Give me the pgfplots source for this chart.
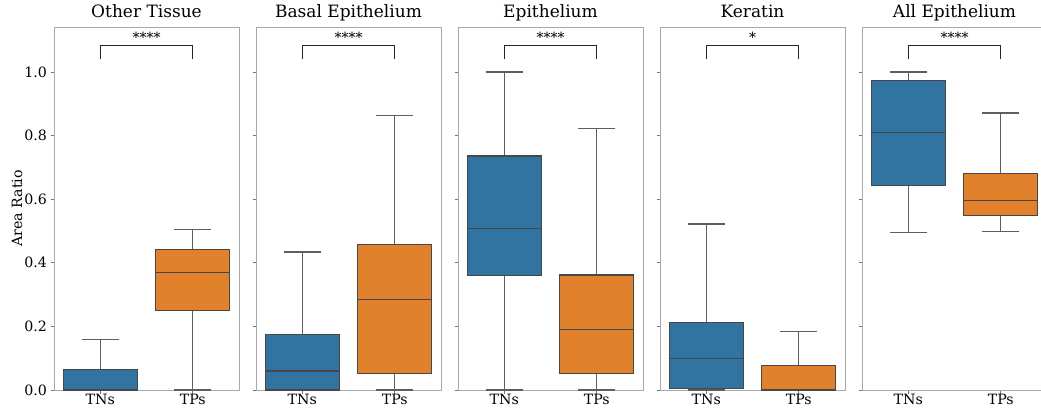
\documentclass[border=0pt]{standalone}
\usepackage{fontspec}
\setmainfont{DejaVu Serif}
\usepackage{pgfplots}
\pgfplotsset{compat=1.18}
\usepgfplotslibrary{statistics}
\definecolor{sbblue}{HTML}{3274A1}
\definecolor{sborange}{HTML}{E1812C}
\definecolor{framegray}{HTML}{A8A8A8}
\definecolor{linegray}{HTML}{474747}
\definecolor{whiskgray}{HTML}{5E5E5E}
\pgfplotsset{
  panel/.style={
    scale only axis, width=185pt, height=363pt, anchor=south west,
    xmin=-0.5, xmax=1.5, ymin=0, ymax=1.1415,
    xtick={0,1}, xticklabels={TNs,TPs},
    ytick={0,0.2,0.4,0.6,0.8,1.0},
    axis line style={draw=framegray, line width=0.9pt},
    tick style={draw=framegray!70!black, line width=0.8pt},
    tick align=outside, major tick length=3.5pt, tick pos=left,
    tick label style={font=\fontsize{14.2}{16}\selectfont},
    xticklabel style={yshift=2.5pt},
    /pgf/number format/assume math mode=true,
    yticklabel style={/pgf/number format/.cd, fixed, fixed zerofill, precision=1},
    title style={at={(0.5,1)}, anchor=base, yshift=3pt, inner sep=0pt, font=\fontsize{17}{19}\selectfont},
    clip=false,
    boxplot/draw direction=y,
    boxplot/every whisker/.style={draw=whiskgray, line width=1.2pt},
  },
  bx/.style={draw=linegray, line width=1.3pt, solid},
}
\newcommand{\bracket}[1]{%
  \addplot[black!85, line width=1.1pt] coordinates {(0,1.040) (0,1.082) (1,1.082) (1,1.040)};
  \node[anchor=base, inner sep=0pt, yshift=3pt, font=\fontsize{14}{16}\selectfont] at (axis cs:0.5,1.082) {#1};
}
\begin{document}
\begin{tikzpicture}
\useasboundingbox (0,0) rectangle (1041pt,408pt);
% Panel 1
\begin{axis}[panel, at={(54pt,18pt)}, title={Other Tissue}, ylabel={Area Ratio},
  ylabel style={at={(axis description cs:0,0.5)}, anchor=center, rotate=0, yshift=37pt, font=\fontsize{14.2}{16}\selectfont}]
\addplot[bx, fill=sbblue, boxplot prepared={lower whisker=0, lower quartile=0, median=0, upper quartile=0.065, upper whisker=0.159, draw position=0, box extend=0.8, whisker extend=0.4}] coordinates {};
\addplot[bx, fill=sborange, boxplot prepared={lower whisker=0, lower quartile=0.249, median=0.369, upper quartile=0.442, upper whisker=0.505, draw position=1, box extend=0.8, whisker extend=0.4}] coordinates {};
\bracket{****}
\end{axis}
% Panel 2
\begin{axis}[panel, at={(256pt,18pt)}, title={Basal Epithelium}, yticklabels={}]
\addplot[bx, fill=sbblue, boxplot prepared={lower whisker=0, lower quartile=0, median=0.060, upper quartile=0.175, upper whisker=0.434, draw position=0, box extend=0.8, whisker extend=0.4}] coordinates {};
\addplot[bx, fill=sborange, boxplot prepared={lower whisker=0, lower quartile=0.052, median=0.285, upper quartile=0.457, upper whisker=0.862, draw position=1, box extend=0.8, whisker extend=0.4}] coordinates {};
\bracket{****}
\end{axis}
% Panel 3
\begin{axis}[panel, at={(458pt,18pt)}, title={Epithelium}, yticklabels={}]
\addplot[bx, fill=sbblue, boxplot prepared={lower whisker=0, lower quartile=0.360, median=0.508, upper quartile=0.736, upper whisker=1.0, draw position=0, box extend=0.8, whisker extend=0.4}] coordinates {};
\addplot[bx, fill=sborange, boxplot prepared={lower whisker=0, lower quartile=0.052, median=0.191, upper quartile=0.362, upper whisker=0.822, draw position=1, box extend=0.8, whisker extend=0.4}] coordinates {};
\bracket{****}
\end{axis}
% Panel 4
\begin{axis}[panel, at={(660pt,18pt)}, title={Keratin}, yticklabels={}]
\addplot[bx, fill=sbblue, boxplot prepared={lower whisker=0, lower quartile=0.004, median=0.098, upper quartile=0.212, upper whisker=0.522, draw position=0, box extend=0.8, whisker extend=0.4}] coordinates {};
\addplot[bx, fill=sborange, boxplot prepared={lower whisker=0, lower quartile=0, median=0, upper quartile=0.078, upper whisker=0.183, draw position=1, box extend=0.8, whisker extend=0.4}] coordinates {};
\bracket{*}
\end{axis}
% Panel 5
\begin{axis}[panel, at={(862pt,18pt)}, title={All Epithelium}, yticklabels={}]
\addplot[bx, fill=sbblue, boxplot prepared={lower whisker=0.495, lower quartile=0.643, median=0.809, upper quartile=0.973, upper whisker=1.0, draw position=0, box extend=0.8, whisker extend=0.4}] coordinates {};
\addplot[bx, fill=sborange, boxplot prepared={lower whisker=0.498, lower quartile=0.548, median=0.596, upper quartile=0.680, upper whisker=0.871, draw position=1, box extend=0.8, whisker extend=0.4}] coordinates {};
\bracket{****}
\end{axis}
\end{tikzpicture}
\end{document}
